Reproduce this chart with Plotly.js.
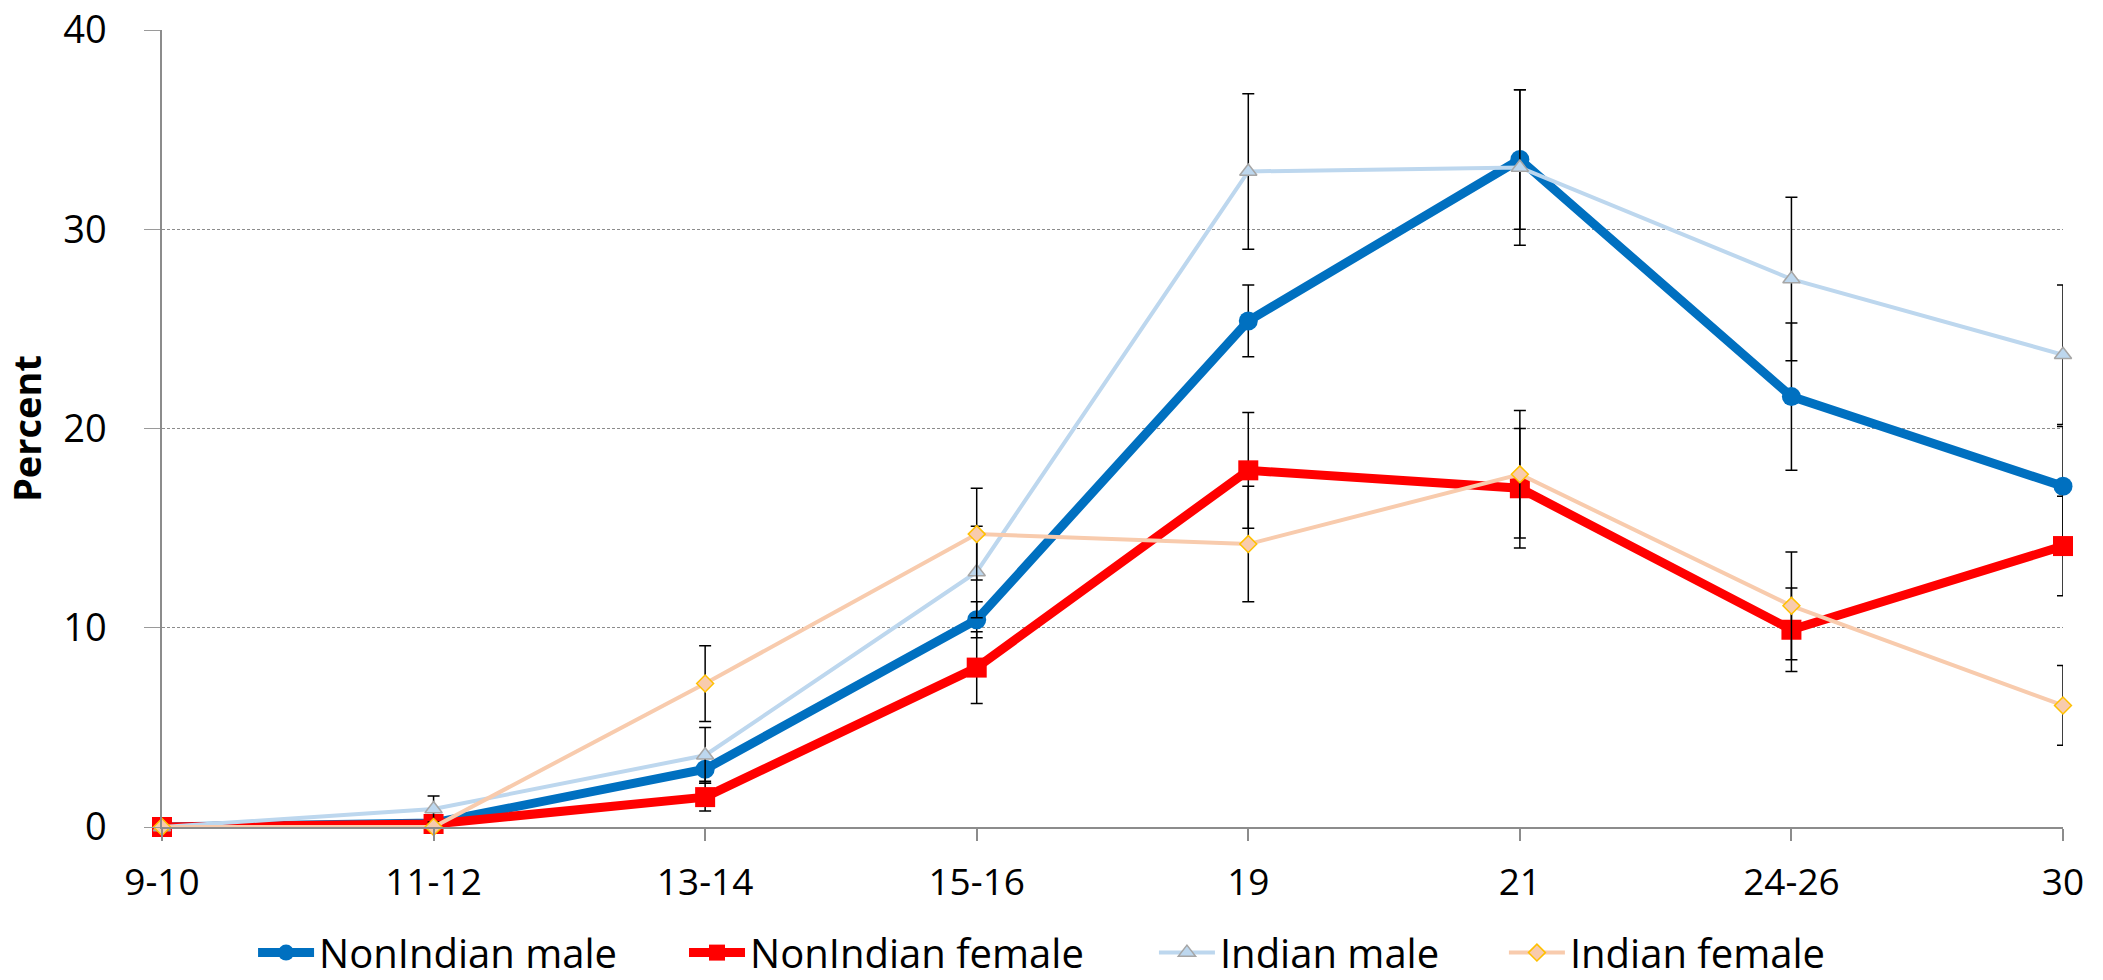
<!DOCTYPE html>
<html>
<head>
<meta charset="utf-8">
<script src="https://cdn.plot.ly/plotly-3.0.1.min.js"></script>
<style>
html,body{margin:0;padding:0;background:#fff;}
#chart{width:2103px;height:980px;}
</style>
</head>
<body>
<div id="chart"></div>
<script>
// ---- data ----
const categories = ["9-10","11-12","13-14","15-16","19","21","24-26","30"];

const nonIndianMale      = [0, 0.2, 2.9, 10.4, 25.4, 33.5, 21.6, 17.1];
const nonIndianMaleErr   = [null, null, 0.6, 0.9, 1.8, 3.5, 3.7, 3.0];

const nonIndianFemale    = [0, 0.15, 1.5, 8.0, 17.9, 17.0, 9.9, 14.1];
const nonIndianFemaleErr = [null, null, 0.7, 1.8, 2.9, 3.0, 2.1, 2.5];

const indianMale         = [0, 0.9, 3.6, 12.8, 32.9, 33.1, 27.5, 23.7];
const indianMaleErr      = [null, 0.65, 1.4, 2.3, 3.9, 3.9, 4.1, 3.5];

const indianFemale       = [0, 0, 7.2, 14.7, 14.2, 17.7, 11.1, 6.1];
const indianFemaleErr    = [null, null, 1.9, 2.3, 2.9, 3.2, 2.7, 2.0];

const seriesNames = ["NonIndian male","NonIndian female","Indian male","Indian female"];

// ---- chart ----
const FONT = "Open Sans, Arial, sans-serif";
function errBar(arr){
  return {type:"data", array:arr, symmetric:true, visible:true,
          color:"#000000", thickness:1.5, width:6};
}

const traces = [
  {x:categories, y:nonIndianMale, name:seriesNames[0], type:"scatter", mode:"lines+markers",
   legend:"legend",
   line:{color:"#0070C0", width:9},
   marker:{symbol:"circle", size:19, color:"#0070C0"},
   error_y:errBar(nonIndianMaleErr), cliponaxis:false},
  {x:categories, y:nonIndianFemale, name:seriesNames[1], type:"scatter", mode:"lines+markers",
   legend:"legend2",
   line:{color:"#FF0000", width:9},
   marker:{symbol:"square", size:20, color:"#FF0000"},
   error_y:errBar(nonIndianFemaleErr), cliponaxis:false},
  {x:categories, y:indianMale, name:seriesNames[2], type:"scatter", mode:"lines+markers",
   legend:"legend3",
   line:{color:"#BDD7EE", width:4},
   marker:{symbol:"triangle-up", size:15, color:"#BDD7EE", line:{color:"#A6A6A6", width:1.5}},
   error_y:errBar(indianMaleErr), cliponaxis:false},
  {x:categories, y:indianFemale, name:seriesNames[3], type:"scatter", mode:"lines+markers",
   legend:"legend4",
   line:{color:"#F8CBAD", width:4},
   marker:{symbol:"diamond", size:13, color:"#F8CBAD", line:{color:"#FFC000", width:1.5}},
   error_y:errBar(indianFemaleErr), cliponaxis:false}
];

function legendAt(xFrac){
  return {orientation:"h", x:xFrac, xanchor:"left", y:-0.1576, yanchor:"middle",
          font:{family:FONT, size:40, color:"#000000"}, itemwidth:56,
          bgcolor:"rgba(0,0,0,0)", borderwidth:0};
}

const layout = {
  width:2103, height:980,
  paper_bgcolor:"#ffffff", plot_bgcolor:"#ffffff",
  margin:{l:162, r:40, t:30, b:153, pad:0, autoexpand:false},
  font:{family:FONT, size:36, color:"#000000"},
  showlegend:true,
  legend:legendAt(0.0479),
  legend2:legendAt(0.2746),
  legend3:legendAt(0.5218),
  legend4:legendAt(0.7059),
  xaxis:{type:"category", range:[0,7], showgrid:false, zeroline:false, automargin:false,
         showline:true, linecolor:"#8C8C8C", linewidth:1.5,
         ticks:"outside", ticklen:12, tickcolor:"#8C8C8C", tickwidth:1.5,
         ticklabelstandoff:10,
         tickfont:{family:FONT, size:37, color:"#000000"}},
  yaxis:{range:[0,40], dtick:10, tick0:0, automargin:false, ticklabeloverflow:"allow",
         showgrid:true, gridcolor:"#8C8C8C", gridwidth:1, griddash:"3px,2px",
         zeroline:false, showline:true, linecolor:"#8C8C8C", linewidth:1.5,
         ticks:"outside", ticklen:16, tickcolor:"#9A9A9A", tickwidth:1,
         ticklabelstandoff:30,
         tickfont:{family:FONT, size:38, color:"#000000"},
         title:{text:"Percent", standoff:22,
                font:{family:FONT, size:38, color:"#000000", weight:"bold"}}}
};

Plotly.newPlot("chart", traces, layout, {displayModeBar:false, responsive:false});
</script>
</body>
</html>
